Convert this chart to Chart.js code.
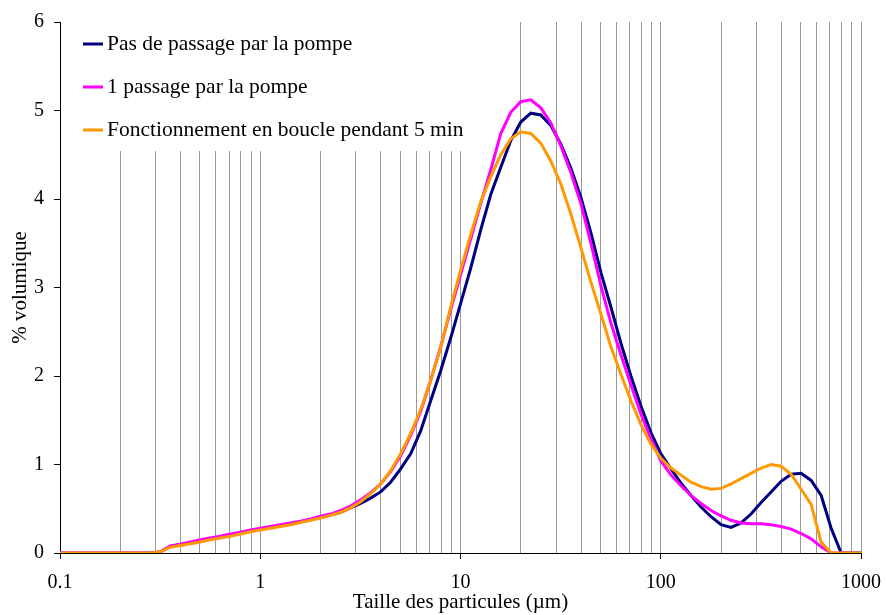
<!DOCTYPE html>
<html>
<head>
<meta charset="utf-8">
<script src="https://cdn.jsdelivr.net/npm/chart.js@4.4.1/dist/chart.umd.min.js"></script>
<style>
  body { margin: 0; background: #fff; }
  #cadre { width: 886px; height: 615px; }
</style>
</head>
<body>
<div id="cadre"><canvas id="granulo"></canvas></div>
<script>
// Tailles des particules (µm), classes logarithmiques
const tailles = [0.1,
  0.282, 0.316, 0.355, 0.399, 0.448, 0.502, 0.564, 0.632, 0.710, 0.796,
  0.893, 1.002, 1.125, 1.262, 1.416, 1.589, 1.783, 2.000, 2.244, 2.518,
  2.825, 3.170, 3.557, 3.991, 4.477, 5.024, 5.637, 6.325, 7.096, 7.962,
  8.934, 10.02, 11.25, 12.62, 14.16, 15.89, 17.83, 20.00, 22.44, 25.18,
  28.25, 31.70, 35.57, 39.91, 44.77, 50.24, 56.37, 63.25, 70.96, 79.62,
  89.34, 100.2, 112.5, 126.2, 141.6, 158.9, 178.3, 200.0, 224.4, 251.8,
  282.5, 317.0, 355.7, 399.1, 447.7, 502.4, 563.7, 632.5, 709.6, 796.2,
  893.4, 1000];

// % volumique pour chaque essai
const sansPompe = [0,
  0, 0.01, 0.075, 0.095, 0.115, 0.14, 0.16, 0.18, 0.205, 0.225,
  0.25, 0.27, 0.29, 0.31, 0.33, 0.35, 0.375, 0.40, 0.43, 0.46,
  0.51, 0.56, 0.62, 0.69, 0.80, 0.95, 1.12, 1.38, 1.72, 2.06,
  2.43, 2.82, 3.22, 3.65, 4.05, 4.36, 4.66, 4.87, 4.97, 4.95,
  4.83, 4.62, 4.35, 4.02, 3.62, 3.17, 2.78, 2.37, 2.00, 1.66,
  1.36, 1.12, 0.95, 0.79, 0.65, 0.52, 0.41, 0.32, 0.29, 0.34,
  0.44, 0.57, 0.69, 0.81, 0.89, 0.90, 0.82, 0.65, 0.28, 0,
  0, 0];
const unPassage = [0,
  0, 0.01, 0.08, 0.10, 0.125, 0.15, 0.17, 0.19, 0.215, 0.235,
  0.26, 0.28, 0.30, 0.32, 0.34, 0.36, 0.385, 0.415, 0.44, 0.48,
  0.53, 0.60, 0.68, 0.78, 0.92, 1.10, 1.33, 1.60, 1.95, 2.33,
  2.75, 3.15, 3.55, 3.95, 4.33, 4.74, 4.98, 5.10, 5.12, 5.03,
  4.86, 4.60, 4.30, 3.95, 3.50, 3.02, 2.60, 2.24, 1.90, 1.57,
  1.29, 1.04, 0.88, 0.76, 0.65, 0.56, 0.48, 0.42, 0.37, 0.34,
  0.33, 0.33, 0.32, 0.30, 0.27, 0.22, 0.16, 0.07, 0, 0,
  0, 0];
const enBoucle = [0,
  0, 0.01, 0.065, 0.085, 0.105, 0.125, 0.15, 0.17, 0.19, 0.215,
  0.24, 0.26, 0.28, 0.30, 0.32, 0.345, 0.37, 0.395, 0.425, 0.46,
  0.51, 0.58, 0.67, 0.78, 0.93, 1.12, 1.35, 1.62, 1.95, 2.32,
  2.78, 3.20, 3.60, 3.97, 4.25, 4.50, 4.68, 4.76, 4.74, 4.63,
  4.43, 4.17, 3.83, 3.45, 3.06, 2.70, 2.33, 2.02, 1.72, 1.45,
  1.23, 1.07, 0.96, 0.88, 0.80, 0.75, 0.72, 0.73, 0.78, 0.84,
  0.90, 0.96, 1.00, 0.98, 0.89, 0.72, 0.55, 0.12, 0, 0,
  0, 0];

const nomsSeries = ["Pas de passage par la pompe", "1 passage par la pompe", "Fonctionnement en boucle pendant 5 min"];
const couleurs = ["#000080", "#FF00FF", "#FF9900"];

// Graduations de l'axe X (grille verticale) et étiquettes des décades
const graduationsX = [0.1, 0.2, 0.3, 0.4, 0.5, 0.6, 0.7, 0.8, 0.9,
  1, 2, 3, 4, 5, 6, 7, 8, 9,
  10, 20, 30, 40, 50, 60, 70, 80, 90,
  100, 200, 300, 400, 500, 600, 700, 800, 900, 1000];
const decades = [0.1, 1, 10, 100, 1000];
const etiquettesX = ["0.1", "1", "10", "100", "1000"];

const police = "'Liberation Serif', 'Times New Roman', serif";

function points(valeurs) {
  return tailles.map((t, i) => ({ x: t, y: valeurs[i] }));
}

// Légende dessinée dans un cadre blanc qui masque la grille
const legendeCadre = {
  id: "legendeCadre",
  beforeDatasetsDraw(chart) {
    const ctx = chart.ctx;
    const zone = chart.chartArea;
    ctx.save();
    ctx.fillStyle = "#fff";
    ctx.fillRect(zone.left + 1, zone.top, 420, 129);
    ctx.font = "21.5px " + police;
    ctx.textBaseline = "middle";
    chart.data.datasets.forEach((ds, i) => {
      const y = zone.top + 22 + i * 43;
      ctx.fillStyle = ds.borderColor;
      ctx.fillRect(zone.left + 23, y - 1.5, 20, 3);
      ctx.fillStyle = "#000";
      ctx.fillText(ds.label, zone.left + 47, y);
    });
    ctx.restore();
  }
};

const series = [sansPompe, unPassage, enBoucle];

new Chart(document.getElementById("granulo"), {
  type: "line",
  data: {
    datasets: series.map((s, i) => ({
      label: nomsSeries[i],
      data: points(s),
      borderColor: couleurs[i],
      backgroundColor: couleurs[i],
      borderWidth: 3,
      pointRadius: 0,
      tension: 0,
      fill: false,
      order: 3 - i
    }))
  },
  options: {
    responsive: true,
    maintainAspectRatio: false,
    animation: false,
    layout: { padding: { top: 19, right: 25, left: 0, bottom: 0 } },
    plugins: {
      legend: { display: false },
      tooltip: { enabled: false }
    },
    scales: {
      x: {
        type: "logarithmic",
        min: 0.1,
        max: 1000,
        afterBuildTicks: (axe) => { axe.ticks = graduationsX.map(v => ({ value: v })); },
        afterFit: (axe) => {
          axe.height = 62;
          axe.paddingLeft = 0;
          axe.paddingRight = 0;
        },
        ticks: {
          autoSkip: false,
          maxRotation: 0,
          padding: 12,
          color: "#000",
          font: { family: police, size: 20 },
          callback: (v) => {
            const k = decades.indexOf(v);
            return k >= 0 ? etiquettesX[k] : "";
          }
        },
        grid: {
          color: (c) => (c.tick && c.tick.value === 0.1) ? "rgba(0,0,0,0)" : "#999",
          tickColor: (c) => (c.tick && decades.includes(c.tick.value)) ? "#000" : "rgba(0,0,0,0)",
          tickLength: 6,
          lineWidth: 1
        },
        border: { color: "#000", width: 1 },
        title: {
          display: true,
          text: "Taille des particules (µm)",
          color: "#000",
          font: { family: police, size: 21 },
          padding: { top: 0, bottom: 0 }
        }
      },
      y: {
        min: 0,
        max: 6,
        afterFit: (axe) => { axe.width = 60; },
        ticks: {
          stepSize: 1,
          padding: 10,
          color: "#000",
          font: { family: police, size: 20 }
        },
        grid: { drawOnChartArea: false, tickLength: 6, tickColor: "#000" },
        border: { color: "#000", width: 1 },
        title: {
          display: true,
          text: "% volumique",
          color: "#000",
          font: { family: police, size: 21 },
          padding: { top: 8, bottom: 0 }
        }
      }
    }
  },
  plugins: [legendeCadre]
});
</script>
</body>
</html>
